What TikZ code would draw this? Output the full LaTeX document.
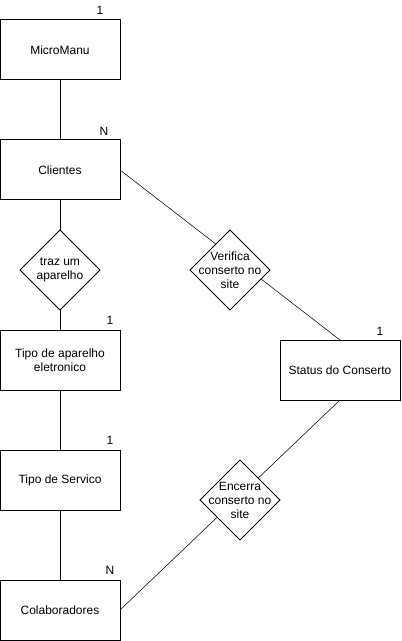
\documentclass[tikz,border=0pt]{standalone}
\usepackage{fontspec}
\setmainfont{Liberation Sans}
\usetikzlibrary{positioning, shapes.geometric, backgrounds}

\begin{document}
\begin{tikzpicture}[x=0.75pt, y=-0.75pt, line width=0.75pt,
    every node/.style={font=\fontsize{9}{10.5}\selectfont, outer sep=0pt, align=center},
    entity/.style={draw, minimum width=90pt, minimum height=45pt, inner sep=2pt},
    relation/.style={diamond, draw, fill=white, minimum width=60pt, minimum height=60pt, inner sep=-5pt},
    card/.style={inner sep=0pt}]
        \useasboundingbox (0,0) rectangle (401,641);

        % Define entities on the left side
        \node[entity] (micro) at (60,50) {MicroManu};
        \node[entity, below=45pt of micro] (clientes) {Clientes};
        \node[relation, below=22.5pt of clientes] (traz) {traz um\\aparelho};
        \node[entity, below=15pt of traz] (aparelho) {Tipo de aparelho\\eletronico};
        \node[entity, below=45pt of aparelho] (servico) {Tipo de Servico};
        \node[entity, below=52.5pt of servico] (colab) {Colaboradores};

        % Define nodes on the right side
        \node[relation] (verifica) at (230,270) {Verifica\\conserto no\\site};
        \node[entity] (status) at (340,370) {Status do Conserto};
        \node[relation] (encerra) at (240,500) {Encerra\\conserto no\\site};

        % Cardinalities
        \node[card] (microCard) at ([xshift=-15pt, yshift=7.5pt]micro.north east) {1};
        \node[card] (clientesCard) at ([xshift=-12pt, yshift=6.75pt]clientes.north east) {N};
        \node[card] (aparelhoCard) at ([xshift=-7.5pt, yshift=7.5pt]aparelho.north east) {1};
        \node[card] (servicoCard) at ([xshift=-7.5pt, yshift=7.5pt]servico.north east) {1};
        \node[card] (colabCard) at ([xshift=-7.5pt, yshift=7.5pt]colab.north east) {N};
        \node[card] (statusCard) at ([xshift=-15pt, yshift=6.75pt]status.north east) {1};

        % Lines between the nodes
        \draw (micro) -- (clientes);
        \draw (clientes) -- (traz);
        \draw (traz) -- (aparelho);
        \draw (aparelho) -- (servico);
        \draw (servico) -- (colab);
        \begin{scope}[on background layer]
            \draw (clientes.east) -- (status.north);
            \draw (colab.east) -- (status.south);
        \end{scope}
    \end{tikzpicture}
\end{document}
